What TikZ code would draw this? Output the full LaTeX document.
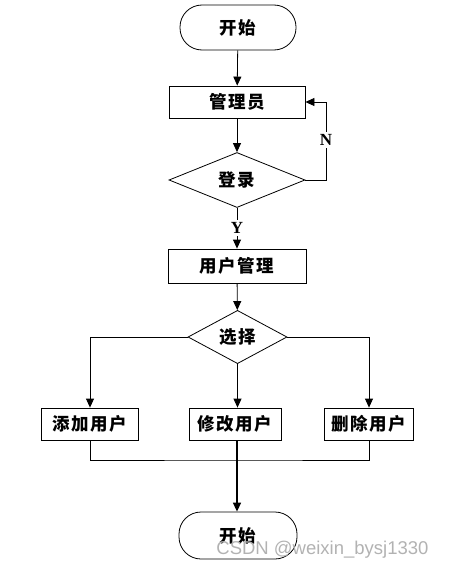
\documentclass[tikz,border=0pt]{standalone}
\usepackage{fontspec}
\newfontfamily\cjk[LetterSpace=8]{Noto Sans CJK SC}
\newfontfamily\yn{Liberation Serif}
\newfontfamily\wm{Liberation Sans}
\usetikzlibrary{shapes.geometric,arrows.meta}
\begin{document}
\begin{tikzpicture}[x=1pt,y=-1pt,
  every node/.style={font=\cjk\bfseries\fontsize{17.5}{19}\selectfont, inner sep=0pt},
  term/.style={draw, rectangle, rounded corners=22pt, minimum width=116pt, minimum height=45pt},
  procbox/.style={draw, rectangle, minimum height=32pt},
  dia/.style={draw, diamond},
  lbl/.style={font=\yn\bfseries\fontsize{17}{19}\selectfont, fill=white, inner sep=2pt},
  arr/.style={-{Triangle[length=9pt,width=8pt]}},
  line width=0.8pt]
\useasboundingbox (0,0) rectangle (449,570);
\node[term] (start) at (238,27.5) {开始};
\node[procbox, minimum width=136pt] (admin) at (237,102) {管理员};
\node[dia, minimum width=136pt, minimum height=55pt] (login) at (237,180) {登录};
\node[procbox, minimum width=138pt, minimum height=34pt] (umgmt) at (237,266) {用户管理};
\node[dia, minimum width=99pt, minimum height=40pt] (choose) at (237.5,337) {选择};
\node[procbox, minimum width=97pt] (add) at (90,424) {添加用户};
\node[procbox, minimum width=92pt] (mod) at (235,424) {修改用户};
\node[procbox, minimum width=89pt] (del) at (369,424) {删除用户};
\node[term, minimum width=118pt, minimum height=47pt] (end) at (238,535.5) {开始};
\coordinate (nc) at (326,180);
\coordinate (m) at (237,460);
\draw[arr] (start) -- (admin);
\draw[arr] (admin) -- (login);
\draw[arr] (login.east) -- (nc) |- (admin.east);
\node[lbl] (nl) at (326,140) {N};
\draw[arr] (login.south) -- (umgmt.north);
\node[lbl] (yl) at (237,228) {Y};
\draw[arr] (umgmt) -- (choose);
\draw[arr] (choose.west) -| (add.north);
\draw[arr] (choose.south) -- (choose.south |- mod.north);
\draw[arr] (choose.east) -| (del.north);
\draw (add.south) |- (m) -| (del.south);
\draw[arr, line width=1.5pt] (m |- mod.south) -- (m |- end.north);
\node[font=\wm\fontsize{18.5}{20}\selectfont, text=gray!60, anchor=west] (wmk) at (216,550) {CSDN @weixin\_bysj1330};
\end{tikzpicture}
\end{document}
